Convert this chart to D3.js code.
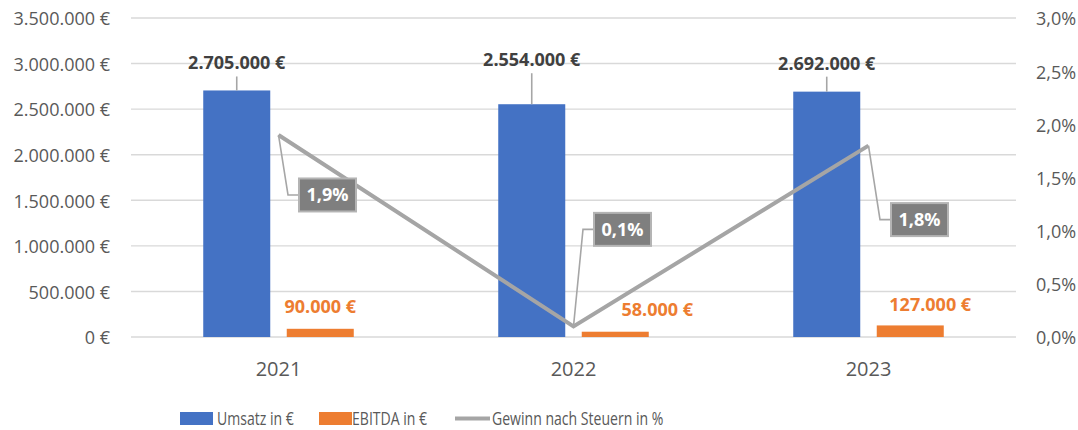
<!DOCTYPE html>
<html>
<head>
<meta charset="utf-8">
<script src="https://cdn.jsdelivr.net/npm/d3@7"></script>
<style>
  body { margin: 0; background: #fff; }
  svg text { font-family: "Open Sans", sans-serif; }
</style>
</head>
<body>
<div id="chart"></div>
<script>
// data
var years = ["2021", "2022", "2023"];
var umsatz = [2705000, 2554000, 2692000];
var ebitda = [90000, 58000, 127000];
var gewinn = [0.019, 0.001, 0.018];
var yTicks = [0, 500000, 1000000, 1500000, 2000000, 2500000, 3000000, 3500000];
var yRightTicks = [0, 0.005, 0.01, 0.015, 0.02, 0.025, 0.03];
var legendLabels = ["Umsatz in €", "EBITDA in €", "Gewinn nach Steuern in %"];

// hand placed label offsets (like the dragged labels in the original)
var umsatzLabelDy = [-21, -38, -22];
var ebitdaLabelOff = [{ dx: 0, dy: -16 }, { dx: 42, dy: -16 }, { dx: 20, dy: -14 }];
var pctLabelOff = [{ dx: 49, dy: 60 }, { dx: 49, dy: -97 }, { dx: 51, dy: 74 }];

var width = 1078;
var height = 430;
var plot = { left: 131, right: 1016, top: 18, bottom: 337 };
var blue = "#4472c4", orange = "#ed7d31", grey = "#a5a5a5";

var de = d3.formatLocale({ decimal: ",", thousands: ".", grouping: [3], currency: ["", " €"] });
var fmtEuro = function (v) { return de.format(",.0f")(v) + " €"; };
var fmtPct = de.format(".1%");

var svg = d3.select("#chart").append("svg")
    .attr("width", width)
    .attr("height", height);

var x = d3.scaleBand().domain(years).range([plot.left, plot.right]);
var x1 = d3.scaleBand().domain(["u", "e"]).range([0, x.bandwidth()])
    .paddingInner(0.1976).paddingOuter(0.865);
var y = d3.scaleLinear().domain([0, 3500000]).range([plot.bottom, plot.top]);
var yR = d3.scaleLinear().domain([0, 0.03]).range([plot.bottom, plot.top]);

// gridlines
svg.append("g").selectAll("line").data(yTicks).enter().append("line")
    .attr("x1", plot.left).attr("x2", plot.right)
    .attr("y1", function (d) { return y(d); }).attr("y2", function (d) { return y(d); })
    .style("stroke", "#d9d9d9").style("stroke-width", 1.4);

// left axis
var yAxis = svg.append("g")
    .attr("transform", "translate(" + (plot.left - 21) + ",0)")
    .call(d3.axisLeft(y).tickValues(yTicks).tickFormat(fmtEuro).tickSize(0).tickPadding(0));
yAxis.select(".domain").remove();
yAxis.selectAll("text").style("font-size", "18px").style("fill", "#595959")
    .attr("dy", "0.38em");

// right axis
var yAxisR = svg.append("g")
    .attr("transform", "translate(" + (plot.right + 20) + ",0)")
    .call(d3.axisRight(yR).tickValues(yRightTicks).tickFormat(fmtPct).tickSize(0).tickPadding(0));
yAxisR.select(".domain").remove();
yAxisR.selectAll("text").style("font-size", "18px").style("fill", "#595959")
    .attr("dy", "0.38em");

// x axis labels
var xAxis = svg.append("g")
    .attr("transform", "translate(0," + plot.bottom + ")")
    .call(d3.axisBottom(x).tickSize(0).tickPadding(0));
xAxis.select(".domain").remove();
xAxis.selectAll("text").style("font-size", "20px").style("fill", "#595959")
    .attr("y", 39).attr("dy", 0);

// bars
var rows = years.map(function (yr, i) {
    return { year: yr, u: umsatz[i], e: ebitda[i], g: gewinn[i], i: i };
});

var groups = svg.append("g").selectAll(".year").data(rows).enter().append("g")
    .classed("year", true)
    .attr("transform", function (d) { return "translate(" + x(d.year) + ",0)"; });

groups.append("rect")
    .attr("x", x1("u")).attr("width", x1.bandwidth())
    .attr("y", function (d) { return y(d.u); })
    .attr("height", function (d) { return y(0) - y(d.u); })
    .style("fill", blue);

groups.append("rect")
    .attr("x", x1("e")).attr("width", x1.bandwidth())
    .attr("y", function (d) { return y(d.e); })
    .attr("height", function (d) { return y(0) - y(d.e); })
    .style("fill", orange);

// umsatz labels with leader lines
groups.append("line")
    .attr("x1", x1("u") + x1.bandwidth() / 2).attr("x2", x1("u") + x1.bandwidth() / 2)
    .attr("y1", function (d) { return y(d.u) + umsatzLabelDy[d.i] + 7; })
    .attr("y2", function (d) { return y(d.u); })
    .style("stroke", "#a6a6a6").style("stroke-width", 1.6);

groups.append("text")
    .attr("x", x1("u") + x1.bandwidth() / 2)
    .attr("y", function (d) { return y(d.u) + umsatzLabelDy[d.i]; })
    .attr("text-anchor", "middle")
    .style("font-size", "18px").style("font-weight", "bold").style("fill", "#404040")
    .text(function (d) { return fmtEuro(d.u); });

groups.append("text")
    .attr("x", function (d) { return x1("e") + x1.bandwidth() / 2 + ebitdaLabelOff[d.i].dx; })
    .attr("y", function (d) { return y(d.e) + ebitdaLabelOff[d.i].dy; })
    .attr("text-anchor", "middle")
    .style("font-size", "18px").style("font-weight", "bold").style("fill", orange)
    .text(function (d) { return fmtEuro(d.e); });

// line series
var cx = function (d) { return x(d.year) + x.bandwidth() / 2; };
var line = d3.line().x(cx).y(function (d) { return yR(d.g); });

svg.append("path").datum(rows)
    .attr("d", line)
    .style("fill", "none").style("stroke", grey).style("stroke-width", 4)
    .style("stroke-linejoin", "miter");

// percent labels in boxes with leader lines
var boxW = 57, boxH = 33;
var pct = svg.append("g").selectAll(".pct").data(rows).enter().append("g").classed("pct", true);

pct.append("polyline")
    .attr("points", function (d) {
        var px = cx(d), py = yR(d.g);
        var bx = px + pctLabelOff[d.i].dx, by = py + pctLabelOff[d.i].dy;
        var lx = bx - boxW / 2;
        return [[px, py], [lx - 11, by], [lx, by]].map(function (p) { return p.join(","); }).join(" ");
    })
    .style("fill", "none").style("stroke", "#a6a6a6").style("stroke-width", 1.6);

pct.append("rect")
    .attr("x", function (d) { return cx(d) + pctLabelOff[d.i].dx - boxW / 2; })
    .attr("y", function (d) { return yR(d.g) + pctLabelOff[d.i].dy - boxH / 2; })
    .attr("width", boxW).attr("height", boxH)
    .style("fill", "#7f7f7f").style("stroke", "#b4b4b4").style("stroke-width", 2);

pct.append("text")
    .attr("x", function (d) { return cx(d) + pctLabelOff[d.i].dx; })
    .attr("y", function (d) { return yR(d.g) + pctLabelOff[d.i].dy; })
    .attr("dy", "0.36em")
    .attr("text-anchor", "middle")
    .style("font-size", "18px").style("font-weight", "bold").style("fill", "#fff")
    .text(function (d) { return fmtPct(d.g); });

// legend (narrow font in the original, so squeeze the text horizontally)
var legend = svg.append("g").attr("transform", "translate(180,0)");
var legItems = [
    { x: 0, kind: "rect", color: blue, textX: 37 },
    { x: 139, kind: "rect", color: orange, textX: 172 },
    { x: 275, kind: "line", color: grey, textX: 312 }
];
var leg = legend.selectAll(".leg").data(legItems).enter().append("g").classed("leg", true);
leg.filter(function (d) { return d.kind === "rect"; }).append("rect")
    .attr("x", function (d) { return d.x; }).attr("y", 412)
    .attr("width", 33).attr("height", 13)
    .style("fill", function (d) { return d.color; });
leg.filter(function (d) { return d.kind === "line"; }).append("line")
    .attr("x1", function (d) { return d.x; }).attr("x2", function (d) { return d.x + 35; })
    .attr("y1", 418.5).attr("y2", 418.5)
    .style("stroke", function (d) { return d.color; }).style("stroke-width", 4);
leg.append("text")
    .attr("transform", function (d) { return "translate(" + d.textX + ",425) scale(0.76,1)"; })
    .style("font-size", "18.5px").style("fill", "#595959")
    .text(function (d, i) { return legendLabels[i]; });
</script>
</body>
</html>
